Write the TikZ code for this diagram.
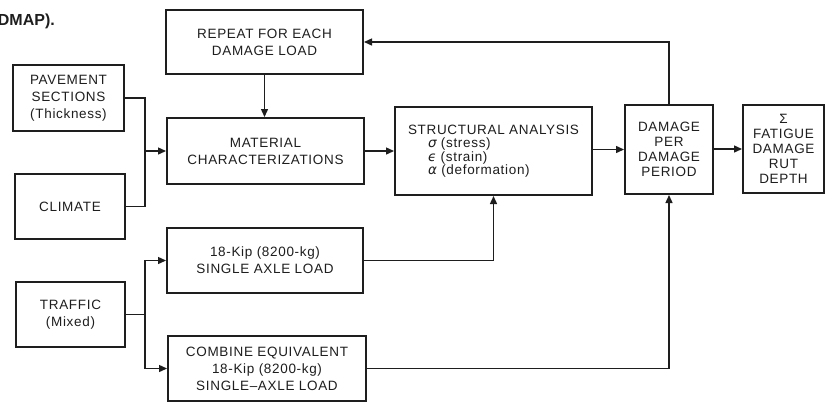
\documentclass[tikz,border=0pt]{standalone}
\usepackage{fontspec}
\setmainfont{Liberation Sans}
\newfontfamily\diagfont[LetterSpace=5]{Liberation Sans}
\newfontfamily\greekfont{DejaVu Sans}
\usetikzlibrary{arrows.meta}
\definecolor{ink}{HTML}{1E1E1E}
\newcommand{\grk}[1]{{\greekfont\itshape #1}}
\begin{document}
\begin{tikzpicture}[x=1pt,y=-1pt,
  box/.style={draw=ink,line width=2pt,rectangle,inner sep=0pt,align=center,
    text=ink,font=\diagfont\fontsize{13.5}{17}\selectfont},
  link/.style={draw=ink,line width=1.4pt},
  arr/.style={link,-{Triangle[length=8pt,width=7pt]}}]
\useasboundingbox (0,0) rectangle (826,405);
\fill[white] (0,0) rectangle (826,405);

% caption fragment along the top edge
\node[anchor=base east,inner sep=0pt,text=ink,font=\bfseries\fontsize{16}{18}\selectfont]
  (cap) at (55,25) {(PDMAP).};

% boxes
\node[box,minimum width=197pt,minimum height=64pt] (rep) at (264.5,42)
  {REPEAT FOR EACH\\DAMAGE LOAD};
\node[box,minimum width=111pt,minimum height=66pt] (pav) at (68.5,98)
  {PAVEMENT\\SECTIONS\\(Thickness)};
\node[box,minimum width=110pt,minimum height=65pt] (cli) at (70,206.5)
  {CLIMATE};
\node[box,minimum width=197pt,minimum height=66pt] (mat) at (265.5,151)
  {MATERIAL\\CHARACTERIZATIONS};
\node[box,minimum width=197pt,minimum height=88pt,align=left,
  font=\diagfont\fontsize{13.5}{13.5}\selectfont] (str) at (493.5,151)
  {STRUCTURAL ANALYSIS\\
   \hspace*{20pt}\grk{σ} (stress)\\
   \hspace*{20pt}\grk{ϵ} (strain)\\
   \hspace*{20pt}\grk{α} (deformation)};
\node[box,minimum width=88pt,minimum height=89pt,
  font=\diagfont\fontsize{13.5}{15}\selectfont] (dam) at (669,149.5)
  {DAMAGE\\PER\\DAMAGE\\PERIOD};
\node[box,minimum width=81pt,minimum height=88pt,
  font=\diagfont\fontsize{13.5}{15}\selectfont] (sig) at (783.5,149)
  {Σ\\FATIGUE\\DAMAGE\\RUT\\DEPTH};
\node[box,minimum width=196pt,minimum height=65pt] (sgl) at (265,260.5)
  {18-Kip (8200-kg)\\SINGLE AXLE LOAD};
\node[box,minimum width=109pt,minimum height=65pt] (tra) at (70.5,314.5)
  {TRAFFIC\\(Mixed)};
\node[box,minimum width=198pt,minimum height=65pt] (cmb) at (267,368.5)
  {COMBINE EQUIVALENT\\18-Kip (8200-kg)\\SINGLE–AXLE LOAD};

% junction points of the merging / splitting lines
\coordinate (jm) at (145,151);
\coordinate (jt) at (145,314.5);

% connectors
\draw[link] (pav.east) -| (jm);
\draw[link] (cli.east) -| (jm);
\draw[arr] (jm) -- (mat.west);
\draw[arr] (rep.south) -- (rep.south |- mat.north);
\draw[arr] (mat.east) -- (mat.east -| str.west);
\draw[arr] (str.east |- dam.west) -- (dam.west);
\draw[arr] (dam.east |- sig.west) -- (sig.west);
\draw[arr] (dam.north) |- (rep.east);
\draw[link] (tra.east) -- (jt);
\draw[arr] (jt) |- (sgl.west);
\draw[arr] (jt) |- (cmb.west);
\draw[arr] (sgl.east) -| (str.south);
\draw[arr] (cmb.east) -| (dam.south);
\end{tikzpicture}
\end{document}
